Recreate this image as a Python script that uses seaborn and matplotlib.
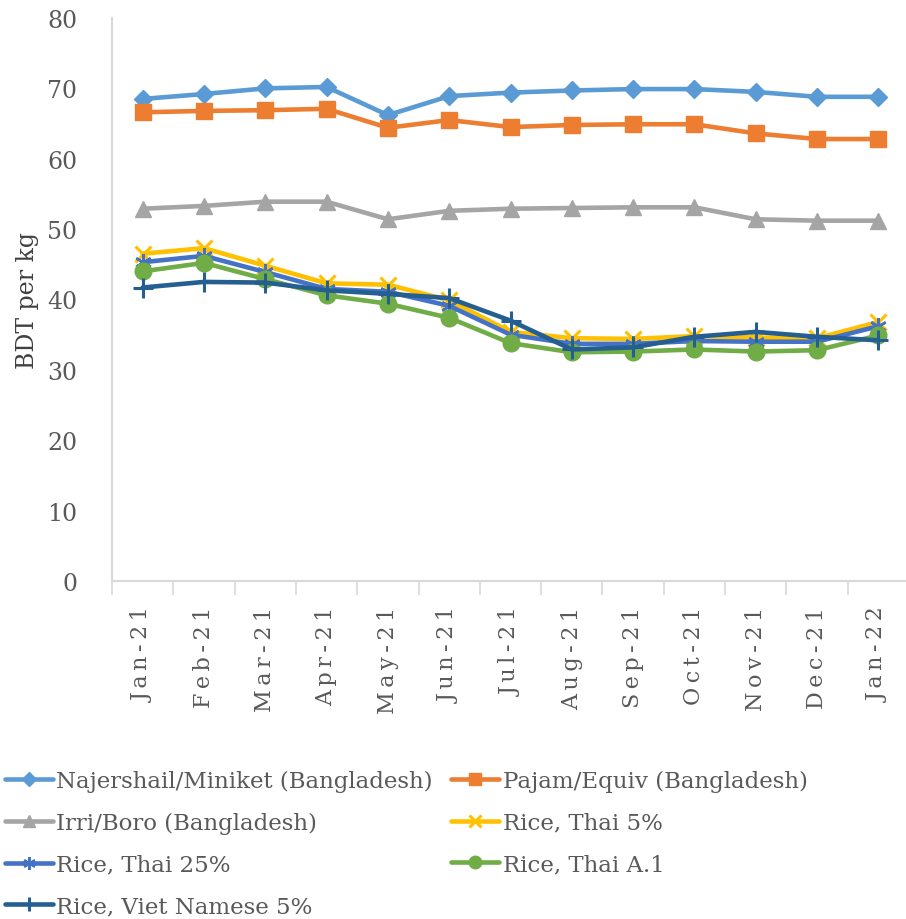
import numpy as np
import pandas as pd
import matplotlib
matplotlib.use("Agg")
import matplotlib.pyplot as plt
import seaborn as sns

months = ["Jan-21", "Feb-21", "Mar-21", "Apr-21", "May-21", "Jun-21", "Jul-21",
          "Aug-21", "Sep-21", "Oct-21", "Nov-21", "Dec-21", "Jan-22"]

najershail = [68.5, 69.2, 70.0, 70.2, 66.2, 68.9, 69.4, 69.7, 69.9, 69.9, 69.5, 68.8, 68.8]
pajam = [66.6, 66.8, 66.9, 67.1, 64.4, 65.5, 64.5, 64.8, 64.9, 64.9, 63.6, 62.8, 62.8]
irri = [52.9, 53.3, 53.9, 53.9, 51.4, 52.6, 52.9, 53.0, 53.1, 53.1, 51.4, 51.2, 51.2]
thai5 = [46.5, 47.3, 44.8, 42.3, 42.1, 39.9, 35.4, 34.5, 34.4, 34.8, 34.6, 34.5, 36.8]
thai25 = [45.3, 46.2, 43.9, 41.5, 41.1, 39.1, 35.0, 33.7, 33.7, 34.1, 34.0, 34.0, 36.2]
thaiA1 = [44.0, 45.2, 42.9, 40.6, 39.4, 37.4, 33.8, 32.5, 32.6, 32.9, 32.6, 32.8, 34.9]
viet5 = [41.7, 42.5, 42.4, 41.3, 40.8, 40.2, 37.0, 32.9, 33.2, 34.7, 35.4, 34.7, 34.2]

names = ["Najershail/Miniket (Bangladesh)", "Pajam/Equiv (Bangladesh)",
         "Irri/Boro (Bangladesh)", "Rice, Thai 5%", "Rice, Thai 25%",
         "Rice, Thai A.1", "Rice, Viet Namese 5%"]
series = [najershail, pajam, irri, thai5, thai25, thaiA1, viet5]
colors = ["#5B9BD5", "#ED7D31", "#A5A5A5", "#FFC000", "#4472C4", "#70AD47", "#255E91"]
markers = ["D", "s", "^", "x", (6, 2, 0), "o", "+"]
msizes = [9, 11, 11, 12, 12, 12, 14]
mew = [1, 1, 1, 2.2, 1.8, 1, 2.2]

df = pd.DataFrame({
    "month": np.tile(np.arange(len(months)), len(names)),
    "price": np.concatenate(series),
    "series": np.repeat(names, len(months)),
})

sns.set_theme(style="white")
plt.rcParams["font.family"] = ["DejaVu Serif", "DejaVu Sans"]

fig = plt.figure(figsize=(9.06, 9.2), dpi=100)
ax = fig.add_axes([112 / 906, 1 - 582 / 920, 797 / 906, (582 - 19) / 920])

for name, col, mk, ms, mw in zip(names, colors, markers, msizes, mew):
    sub = df[df["series"] == name]
    sns.lineplot(data=sub, x="month", y="price", ax=ax, color=col, linewidth=3.3,
                 marker=mk, markersize=ms, markeredgecolor=col, markerfacecolor=col,
                 markeredgewidth=mw, label=name, clip_on=False)

ax.set_xlim(-0.5, len(months) - 0.5)
ax.set_ylim(0, 80)
ax.set_yticks(np.arange(0, 81, 10))
ax.tick_params(axis="y", length=0, pad=25, labelsize=17, labelcolor="#595959")

# category labels between boundary ticks
ax.set_xticks(np.arange(len(months)))
spaced = ["\u2009".join(m) for m in months]
ax.set_xticklabels(spaced, rotation=90, fontsize=16, color="#595959")
ax.tick_params(axis="x", length=0, pad=18)
ax.set_xticks(np.arange(len(months) + 1) - 0.5, minor=True)
ax.tick_params(axis="x", which="minor", length=10, width=1.2, color="#D9D9D9",
               direction="out", bottom=True)

ax.set_xlabel("")
ax.set_ylabel("BDT per kg", fontsize=17, color="#404040")
ax.yaxis.set_label_coords(-0.092, 0.5)

for s in ["top", "right"]:
    ax.spines[s].set_visible(False)
ax.spines["left"].set_color("#D9D9D9")
ax.spines["left"].set_linewidth(1.5)
ax.spines["bottom"].set_color("#D9D9D9")
ax.spines["bottom"].set_linewidth(1.5)

handles, labels = ax.get_legend_handles_labels()
ax.get_legend().remove()
order = [0, 2, 4, 6, 1, 3, 5]
fig.legend([handles[i] for i in order], [labels[i] for i in order],
           loc="upper left", bbox_to_anchor=(-0.005, 0.172), ncol=2,
           frameon=False, fontsize=16.5, handlelength=2.1, handletextpad=0.15,
           columnspacing=0.8, labelspacing=0.86, borderaxespad=0,
           markerscale=0.75, labelcolor="#595959")

fig.savefig("out.png", dpi=100)
